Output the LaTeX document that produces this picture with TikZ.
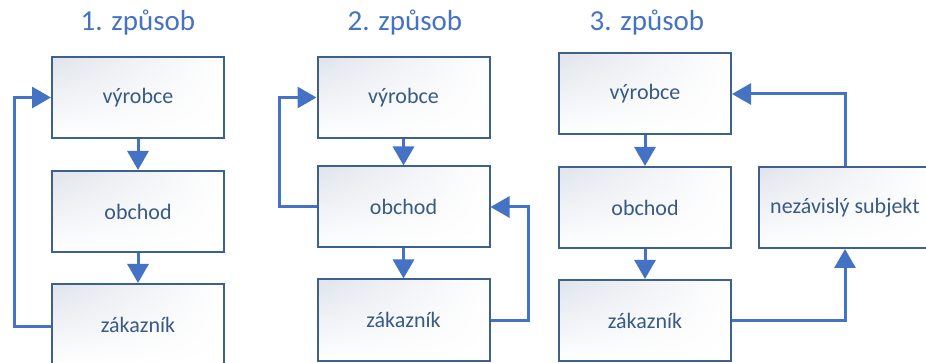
\documentclass[tikz,border=0pt]{standalone}
\usepackage{fontspec}
\setmainfont{Carlito}
\usepackage{tikz}
\usetikzlibrary{positioning, arrows.meta, shadings}

\definecolor{flowblue}{RGB}{68,114,196}
\definecolor{boxedge}{RGB}{62,96,140}
\definecolor{boxtext}{RGB}{56,90,132}
\definecolor{boxgrey}{RGB}{224,228,235}

\begin{document}
\begin{tikzpicture}[
    x=1pt, y=-1pt,
    box/.style={rectangle, draw=boxedge, line width=2pt, upper left=boxgrey,
        minimum width=172pt, minimum height=81pt, inner sep=0pt,
        text=boxtext, font=\fontsize{22}{26}\selectfont},
    title/.style={text=flowblue, font=\fontsize{29}{33}\selectfont},
    flow/.style={draw=flowblue, line width=3pt, -{Triangle[length=19pt, width=21pt]}},
]
    \useasboundingbox (0,0) rectangle (926,363);

    % --- 1. zpusob ---
    \node[title] (T1) at (138, 23) {1. způsob};
    \node[box] (vyr1) at (138, 97.5)  {výrobce};
    \node[box] (obc1) at (138, 211.5) {obchod};
    \node[box] (zak1) at (138, 324.5) {zákazník};

    % --- 2. zpusob ---
    \node[title] (T2) at (405, 23) {2. způsob};
    \node[box] (vyr2) at (403.5, 97.5) {výrobce};
    \node[box] (obc2) at (403.5, 207)  {obchod};
    \node[box] (zak2) at (403.5, 320)  {zákazník};

    % --- 3. zpusob ---
    \node[title] (T3) at (647, 23) {3. způsob};
    \node[box] (vyr3) at (645, 94)    {výrobce};
    \node[box] (obc3) at (645, 207.5) {obchod};
    \node[box] (zak3) at (645, 320.5) {zákazník};
    \node[box] (nez)  at (845, 207.5) {nezávislý subjekt};

    % --- Edges 1 ---
    \draw[flow] (vyr1) -- (obc1);
    \draw[flow] (obc1) -- (zak1);
    \draw[flow] ([yshift=-1.5pt]zak1.west) -- ++(-37,0) |- (vyr1.west);

    % --- Edges 2 ---
    \draw[flow] (vyr2) -- (obc2);
    \draw[flow] (obc2) -- (zak2);
    \draw[flow] (obc2.west) -- ++(-37,0) |- (vyr2.west);
    \draw[flow] (zak2.east) -- ++(38,0) |- (obc2.east);

    % --- Edges 3 ---
    \draw[flow] (vyr3) -- (obc3);
    \draw[flow] (obc3) -- (zak3);
    \draw[flow] (zak3.east) -| (nez.south);
    \draw[flow] (nez.north) |- (vyr3.east);

\end{tikzpicture}
\end{document}
